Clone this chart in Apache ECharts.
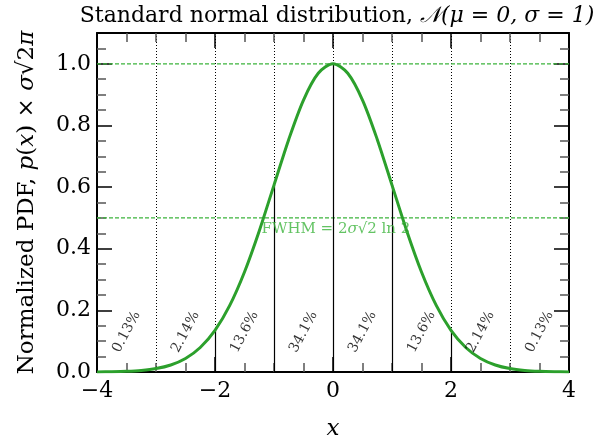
<!DOCTYPE html>
<html>
<head>
<meta charset="UTF-8">
<title>Standard normal distribution</title>
<script src="https://cdn.jsdelivr.net/npm/echarts@6/dist/echarts.min.js"></script>
<style>
  * { margin: 0; padding: 0; }
  body { background: #fff; }
  #chart { width: 598px; height: 441px; }
</style>
</head>
<body>
<div id="chart"></div>
<script>
// curve (normalized pdf)
const curveX = [-4, -3.75, -3.5, -3.25, -3, -2.75, -2.5, -2.25, -2, -1.75, -1.5, -1.25, -1, -0.75, -0.5, -0.25,
  0, 0.25, 0.5, 0.75, 1, 1.25, 1.5, 1.75, 2, 2.25, 2.5, 2.75, 3, 3.25, 3.5, 3.75, 4];
const curveY = [0.0003, 0.0009, 0.0022, 0.0051, 0.0111, 0.0228, 0.0439, 0.0796, 0.1353, 0.2163, 0.3247, 0.4578, 0.6065, 0.7548, 0.8825, 0.9692,
  1.0, 0.9692, 0.8825, 0.7548, 0.6065, 0.4578, 0.3247, 0.2163, 0.1353, 0.0796, 0.0439, 0.0228, 0.0111, 0.0051, 0.0022, 0.0009, 0.0003];

// solid segments from the axis up to the curve
const stemX = [-2, -1, 0, 1, 2];
const stemY = [0.1353, 0.6065, 1.0, 0.6065, 0.1353];

// percentage labels between sigma lines
const bandX = [-3.5, -2.5, -1.5, -0.5, 0.5, 1.5, 2.5, 3.5];
const bandText = ['0.13%', '2.14%', '13.6%', '34.1%', '34.1%', '13.6%', '2.14%', '0.13%'];
const bandY = 0.13;

// dashed reference levels (peak and half maximum)
const hLines = [1.0, 0.5];

const green = '#2ca02c';
const lightGreen = '#3cb43c';
const serif = "'DejaVu Serif', 'Liberation Serif', serif";

const chart = echarts.init(document.getElementById('chart'));

const tickAxis = (pos) => ({
    axisLine: { show: true, onZero: false, lineStyle: { color: '#000', width: 2 } },
    axisTick: { show: true, inside: true, length: 15, lineStyle: { color: '#000', width: 1.5 } },
    minorTick: { show: true, splitNumber: 4, length: 9, lineStyle: { color: '#555', width: 1.5 } },
    splitLine: { show: false },
    minorSplitLine: { show: false },
    axisLabel: { show: false },
    position: pos
});

const minusFmt = v => (v < 0 ? '\u2212' + Math.abs(v) : String(v));

const hSeries = hLines.map(v => ({
    type: 'line',
    xAxisIndex: 0, yAxisIndex: 0,
    data: [[-4, v], [4, v]],
    symbol: 'none', silent: true,
    lineStyle: { color: lightGreen, width: 1.2, type: [4, 2] },
    z: 4
}));

chart.setOption({
    animation: false,
    title: {
        text: 'Standard normal distribution, {it|𝒩(μ = 0, σ = 1)}',
        left: 332, top: 0, textAlign: 'center',
        textStyle: {
            fontFamily: serif, fontSize: 22, fontWeight: 'normal', color: '#000',
            rich: { it: { fontFamily: serif, fontSize: 22, fontStyle: 'italic', color: '#000' } }
        }
    },
    grid: { left: 97, right: 29, top: 33, bottom: 69, show: false, outerBoundsMode: 'none', containLabel: false },
    xAxis: [
        Object.assign({
            type: 'value', min: -4, max: 4, interval: 2,
            name: 'x', nameLocation: 'middle', nameGap: 46,
            nameTextStyle: { fontFamily: serif, fontSize: 23, fontStyle: 'italic', color: '#000' }
        }, tickAxis('bottom'), {
            axisLabel: {
                show: true, color: '#000', fontFamily: serif, fontSize: 22, margin: 8,
                formatter: minusFmt
            }
        }),
        Object.assign({ type: 'value', min: -4, max: 4, interval: 2 }, tickAxis('top')),
        {
            type: 'value', min: -4, max: 4, interval: 1, position: 'bottom',
            axisLine: { show: false }, axisTick: { show: false }, axisLabel: { show: false },
            splitLine: { show: true, lineStyle: { color: '#000', width: 1, type: [1, 2] } }
        }
    ],
    yAxis: [
        Object.assign({
            type: 'value', min: 0, max: 1.1, interval: 0.2,
            name: 'Normalized PDF, {it|p}({it|x}) × {it|σ}√2{it|π}',
            nameLocation: 'middle', nameGap: 58, nameRotate: 90,
            nameTextStyle: {
                fontFamily: serif, fontSize: 23, color: '#000',
                rich: { it: { fontFamily: serif, fontSize: 23, fontStyle: 'italic', color: '#000' } }
            }
        }, tickAxis('left'), {
            axisLabel: {
                show: true, color: '#000', fontFamily: serif, fontSize: 22, margin: 6,
                formatter: v => (Math.abs(v - 1.1) < 1e-6 ? '' : v.toFixed(1))
            }
        }),
        Object.assign({ type: 'value', min: 0, max: 1.1, interval: 0.2 }, tickAxis('right'))
    ],
    series: [
        {
            type: 'line',
            xAxisIndex: 0, yAxisIndex: 0,
            data: stemX.map((x, i) => [x, stemY[i]]),
            symbol: 'none',
            lineStyle: { width: 0 },
            silent: true,
            markLine: {
                silent: true, symbol: 'none', label: { show: false },
                lineStyle: { color: '#000', width: 1.2, type: 'solid' },
                data: stemX.map((x, i) => [{ coord: [x, 0] }, { coord: [x, stemY[i]] }])
            },
            z: 3
        },
        ...hSeries,
        {
            type: 'line',
            xAxisIndex: 0, yAxisIndex: 0,
            data: curveX.map((x, i) => [x, curveY[i]]),
            symbol: 'none', smooth: 0.3,
            lineStyle: { color: green, width: 3 },
            silent: true,
            z: 5
        },
        {
            type: 'scatter',
            xAxisIndex: 0, yAxisIndex: 0,
            data: bandX.map((x, i) => ({ value: [x, bandY], name: bandText[i] })),
            symbolSize: 0,
            label: {
                show: true, position: 'inside', rotate: 62,
                formatter: p => p.name,
                fontFamily: serif, fontSize: 14, color: '#000'
            },
            silent: true, z: 6
        },
        {
            type: 'scatter',
            xAxisIndex: 0, yAxisIndex: 0,
            data: [{ value: [0.05, 0.5], name: 'FWHM' }],
            symbolSize: 0,
            label: {
                show: true, position: 'bottom', distance: 4,
                formatter: 'FWHM = 2{it|σ}√2 ln 2',
                fontFamily: serif, fontSize: 15, color: lightGreen,
                rich: { it: { fontFamily: serif, fontSize: 15, fontStyle: 'italic', color: lightGreen } }
            },
            silent: true, z: 6
        }
    ]
});
</script>
</body>
</html>
